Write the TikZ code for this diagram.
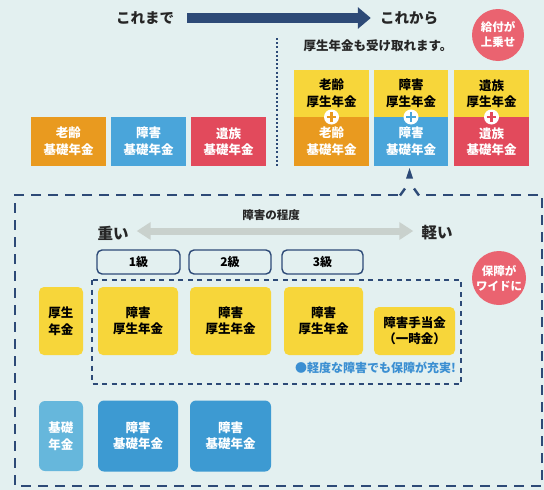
\documentclass[tikz,border=0pt]{standalone}
\usepackage{fontspec}
\newfontfamily\jp{Noto Sans CJK JP}[BoldFont={Noto Sans CJK JP Black}]
\usetikzlibrary{arrows.meta}
\definecolor{bg}{HTML}{E3F0F0}
\definecolor{navy}{HTML}{2D4A77}
\definecolor{cOrange}{HTML}{E99A1F}
\definecolor{cBlue}{HTML}{4AA5DA}
\definecolor{cRed}{HTML}{E24A5C}
\definecolor{cYellow}{HTML}{F7D63A}
\definecolor{cBlueD}{HTML}{3D9AD2}
\definecolor{cBlueL}{HTML}{66B7DC}
\definecolor{cPink}{HTML}{EA6370}
\definecolor{cGray}{HTML}{C9D1CD}
\definecolor{cNote}{HTML}{3B8FD2}
\tikzset{
  boxtxt/.style={inner sep=0pt, align=center, font=\jp\bfseries\fontsize{12.5}{16.5}\selectfont},
  wbox/.style={boxtxt, text=white},
  ybox/.style={boxtxt, text=black, fill=cYellow},
  title/.style={inner sep=0pt, font=\jp\bfseries\fontsize{14.5}{16}\selectfont, text=black!85},
  badge/.style={circle, fill=cPink, minimum size=52pt, inner sep=0pt, align=center, text=white, font=\jp\bfseries\fontsize{11.5}{15}\selectfont},
  grade/.style={draw=navy, line width=1.4pt, rounded corners=5pt, fill=bg, inner sep=0pt, minimum height=24pt, font=\jp\bfseries\fontsize{12}{14}\selectfont},
  bigdash/.style={navy, line width=2.4pt, dash pattern=on 10pt off 7pt},
  smalldash/.style={navy, line width=1.4pt, dash pattern=on 5pt off 4.5pt},
  dotline/.style={navy, line width=2.2pt, dash pattern=on 2pt off 2.2pt},
}
\begin{document}
\begin{tikzpicture}[x=1pt,y=-1pt]
\fill[bg] (0,0) rectangle (544,490);
\useasboundingbox (0,0) rectangle (544,490);

% ---- top row
\node[title] (past) at (145,18) {これまで};
\node[title] (future) at (409,18) {これから};
\draw[navy, line width=10pt, -{Triangle[length=13pt,width=21pt]}, shorten <=13pt, shorten >=9pt] (past.east) -- (future.west);
\node[badge] (c1) at (498,35) {給付が\\上乗せ};
\node[title, font=\jp\bfseries\fontsize{12.5}{14}\selectfont] (also) at (378,46) {厚生年金も受け取れます。};
\coordinate (d1) at (277,38);
\coordinate (d2) at (277,166);
\draw[dotline] (d1) -- (d2);

% ---- before
\node[wbox, fill=cOrange, minimum width=75pt, minimum height=49pt] (oldB) at (68.5,141.5) {老齢\\基礎年金};
\node[wbox, fill=cBlue, minimum width=75pt, minimum height=49pt] (disB) at (148.5,141.5) {障害\\基礎年金};
\node[wbox, fill=cRed, minimum width=75pt, minimum height=49pt] (surB) at (228.5,141.5) {遺族\\基礎年金};

% ---- after
\node[ybox, minimum width=75pt, minimum height=47pt] (oldK) at (331.5,93.5) {老齢\\厚生年金};
\node[ybox, minimum width=74pt, minimum height=47pt] (disK) at (411,93.5) {障害\\厚生年金};
\node[ybox, minimum width=75pt, minimum height=47pt] (surK) at (491.5,93.5) {遺族\\厚生年金};
\node[wbox, fill=cOrange, minimum width=75pt, minimum height=49pt] (oldB2) at (331.5,141.5) {老齢\\基礎年金};
\node[wbox, fill=cBlue, minimum width=74pt, minimum height=49pt] (disB2) at (411,141.5) {障害\\基礎年金};
\node[wbox, fill=cRed, minimum width=75pt, minimum height=49pt] (surB2) at (491.5,141.5) {遺族\\基礎年金};
\foreach \xx/\cc in {331.5/cOrange, 411/cBlue, 491.5/cRed}{
  \fill[white] (\xx,117) circle (7.5pt);
  \draw[\cc, line width=2.8pt] (\xx-4.8,117) -- (\xx+4.8,117) (\xx,112.2) -- (\xx,121.8);
}
\fill[navy] (406,178.5) -- (409.5,168) -- (413,178.5) -- cycle;

% ---- big dashed frame
\draw[bigdash] (398,195) -- (15,195) -- (15,486) -- (542,486) -- (542,195) -- (421,195);
\draw[navy, line width=2.4pt] (400,195.5) -- (405,188.5) (414,188.5) -- (419,195.5);

\node[title, font=\jp\bfseries\fontsize{11.5}{13}\selectfont] (deg) at (271,215) {障害の程度};
\node[title, font=\jp\bfseries\fontsize{15.5}{17}\selectfont] (heavy) at (113,233) {重い};
\node[title, font=\jp\bfseries\fontsize{15.5}{17}\selectfont] (light) at (437,233) {軽い};
\draw[cGray, line width=7pt, {Triangle[length=14pt,width=17pt]}-{Triangle[length=14pt,width=17pt]}, shorten <=8pt, shorten >=8pt] ([yshift=2pt]heavy.east) -- ([yshift=2pt]light.west);

\node[grade, minimum width=83pt] (g1) at (138.5,262) {1級};
\node[grade, minimum width=82pt] (g2) at (230,262) {2級};
\node[grade, minimum width=81pt] (g3) at (322.5,262) {3級};
\node[badge, minimum size=54pt] (c2) at (499,278) {保障が\\ワイドに};

\draw[smalldash] (92,280) rectangle (461,384);

\node[ybox, rounded corners=5pt, minimum width=44pt, minimum height=68pt] (kose) at (61,321) {厚生\\年金};
\node[ybox, rounded corners=5pt, minimum width=80pt, minimum height=68pt] (k1) at (138,321) {障害\\厚生年金};
\node[ybox, rounded corners=5pt, minimum width=81pt, minimum height=68pt] (k2) at (230.5,321) {障害\\厚生年金};
\node[ybox, rounded corners=5pt, minimum width=79pt, minimum height=68pt] (k3) at (323.5,321) {障害\\厚生年金};
\node[ybox, rounded corners=5pt, minimum width=81pt, minimum height=48pt] (tea) at (414.5,331) {障害手当金\\（一時金）};
\node[inner sep=0pt, anchor=east, text=cNote, font=\jp\bfseries\fontsize{12}{14}\selectfont] (more) at (456,368) {●軽度な障害でも保障が充実!};

\node[wbox, fill=cBlueL, rounded corners=6pt, minimum width=44pt, minimum height=70pt] (kiso) at (61,436) {基礎\\年金};
\node[wbox, fill=cBlueD, rounded corners=6pt, minimum width=80pt, minimum height=71pt] (b1) at (138,436) {障害\\基礎年金};
\node[wbox, fill=cBlueD, rounded corners=6pt, minimum width=81pt, minimum height=71pt] (b2) at (230.5,436) {障害\\基礎年金};
\end{tikzpicture}
\end{document}
